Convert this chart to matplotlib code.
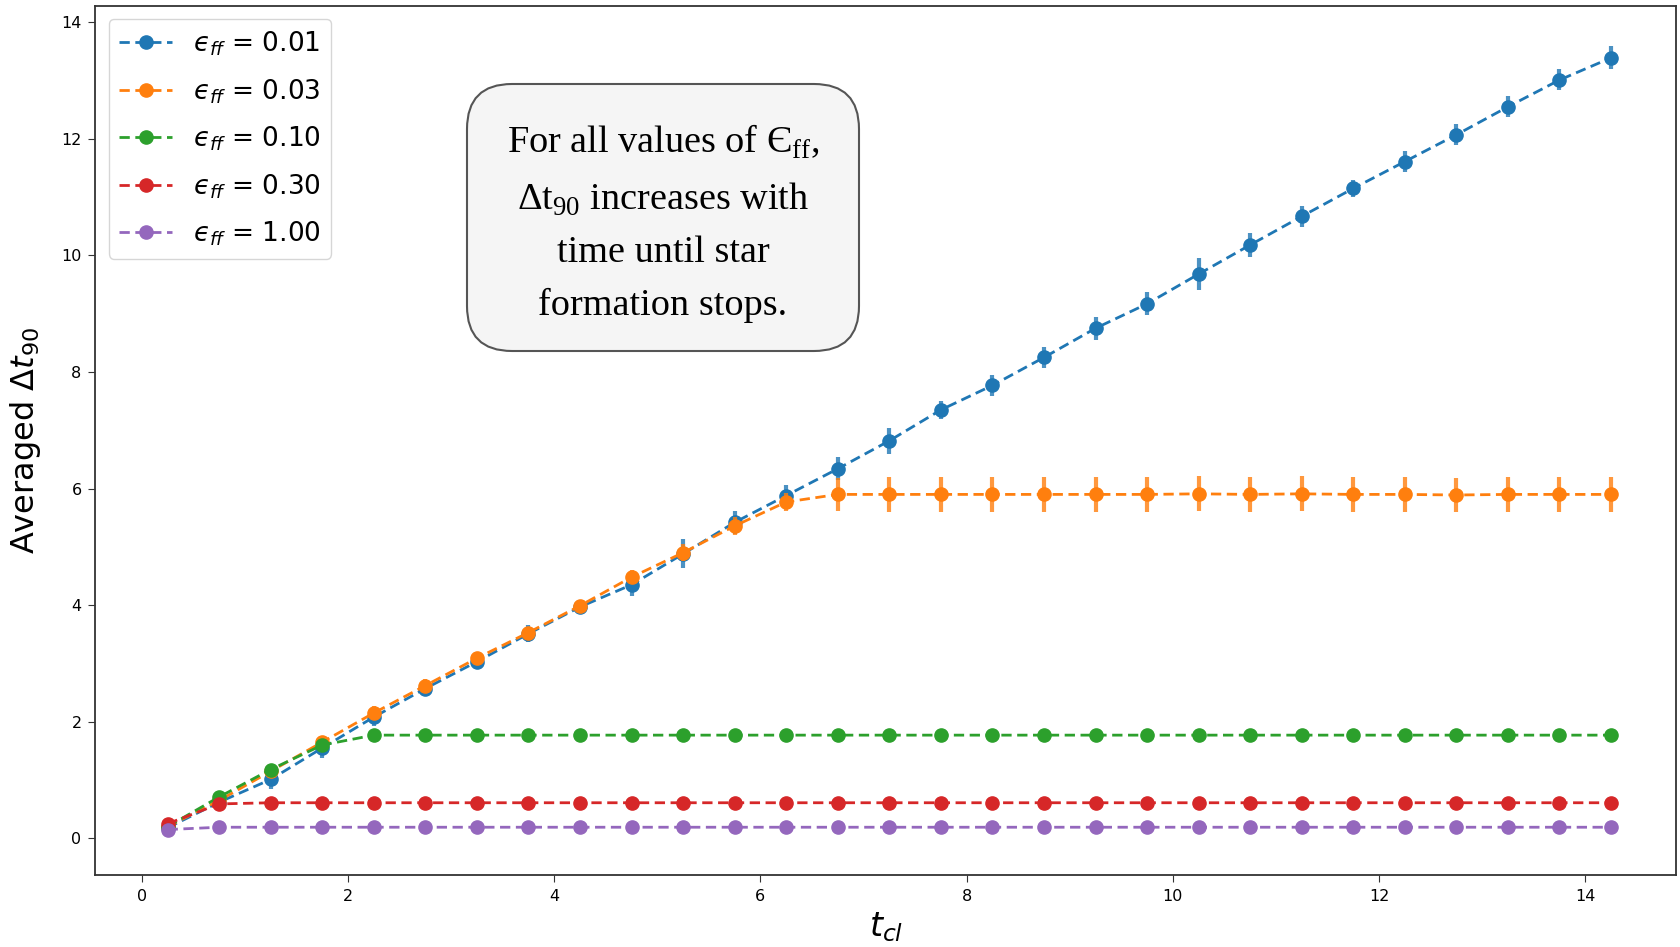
import matplotlib
matplotlib.use("Agg")
import matplotlib.pyplot as plt
from matplotlib.patches import FancyBboxPatch
from matplotlib.transforms import IdentityTransform
import numpy as np


# cluster age grid
t_cl = np.arange(0.25, 14.5, 0.5)

eff_labels = ["0.01", "0.03", "0.10", "0.30", "1.00"]
colors = ["#1f77b4", "#ff7f0e", "#2ca02c", "#d62728", "#9467bd"]

dt90_001 = [0.18, 0.62, 1.01, 1.55, 2.08, 2.57, 3.03, 3.51, 3.97, 4.35,
            4.88, 5.42, 5.88, 6.34, 6.82, 7.35, 7.77, 8.25, 8.75, 9.17,
            9.68, 10.18, 10.67, 11.15, 11.61, 12.07, 12.55, 13.01, 13.39]
err_001 = [0.05, 0.10, 0.17, 0.17, 0.15, 0.12, 0.12, 0.15, 0.12, 0.20,
           0.25, 0.20, 0.18, 0.20, 0.22, 0.15, 0.18, 0.18, 0.20, 0.20,
           0.28, 0.20, 0.18, 0.15, 0.18, 0.18, 0.18, 0.18, 0.20]

dt90_003 = [0.20, 0.65, 1.15, 1.65, 2.15, 2.62, 3.09, 3.53, 3.99, 4.48,
            4.90, 5.36, 5.77, 5.90, 5.90, 5.90, 5.90, 5.90, 5.90, 5.90,
            5.91, 5.90, 5.91, 5.90, 5.90, 5.89, 5.90, 5.90, 5.90]
err_003 = [0.05, 0.10, 0.10, 0.10, 0.12, 0.12, 0.10, 0.10, 0.10, 0.12,
           0.15, 0.15, 0.15, 0.28, 0.30, 0.30, 0.30, 0.30, 0.30, 0.30,
           0.30, 0.30, 0.30, 0.30, 0.30, 0.30, 0.30, 0.30, 0.30]

dt90_010 = [0.20, 0.71, 1.18, 1.60] + [1.77] * 25
err_010 = [0.04, 0.06, 0.06, 0.06] + [0.03] * 25

dt90_030 = [0.25, 0.59] + [0.61] * 27
err_030 = [0.03, 0.03] + [0.02] * 27

dt90_100 = [0.15] + [0.19] * 28
err_100 = [0.02] + [0.01] * 28

series = [dt90_001, dt90_003, dt90_010, dt90_030, dt90_100]
errors = [err_001, err_003, err_010, err_030, err_100]


fig = plt.figure(figsize=(16.8, 9.47), dpi=100)
ax = fig.add_axes([0.0568, 0.076, 0.9408, 0.9177])

for vals, errs, lab, c in zip(series, errors, eff_labels, colors):
    ax.errorbar(t_cl, vals, yerr=errs, fmt="none", ecolor=c, elinewidth=3,
                alpha=0.8, capsize=0)
    ax.plot(t_cl, vals, "o--", color=c, markersize=9.5, linewidth=2.0,
            dashes=(3.7, 2.0), label="$\u03f5_{ff}$ = " + lab)

ax.set_xlim(-0.45, 14.88)
ax.set_ylim(-0.63, 14.28)
ax.set_xticks(np.arange(0, 15, 2))
ax.set_yticks(np.arange(0, 15, 2))
ax.tick_params(labelsize=11.5, pad=5, length=5, color="#333333")
for sp in ax.spines.values():
    sp.set_linewidth(1.3)
    sp.set_color("#333333")

ax.set_xlabel(r"$t_{cl}$", fontsize=24)
ax.xaxis.set_label_coords(0.5, -0.041)
ax.xaxis.label.set_va("top")
ax.set_ylabel(r"Averaged $\Delta t_{90}$", fontsize=23)
ax.yaxis.set_label_coords(-0.033, 0.5)

ax.legend(loc="upper left", fontsize=19, handlelength=2.0, labelspacing=0.72)

# note box in pixel coordinates
plt.rcParams["mathtext.rm"] = "Liberation Serif"
box = FancyBboxPatch((467, 596), 392, 267,
                     boxstyle="round,pad=0,rounding_size=45",
                     transform=IdentityTransform(), facecolor="#f5f5f5",
                     edgecolor="#555555", linewidth=1.5, zorder=5)
fig.patches.append(box)
note = ("For all values of \u0404$_{\\mathrm{ff}}$,\n"
        "\u0394t$_{\\mathrm{90}}$ increases with\n"
        "time until star\n"
        "formation stops.")
fig.text(663 / 1680, 1 - 223 / 947, note, ha="center", va="center",
         family="Liberation Serif", fontsize=27.5, linespacing=1.67,
         math_fontfamily="custom", zorder=6)

fig.savefig("out.png", dpi=100)
